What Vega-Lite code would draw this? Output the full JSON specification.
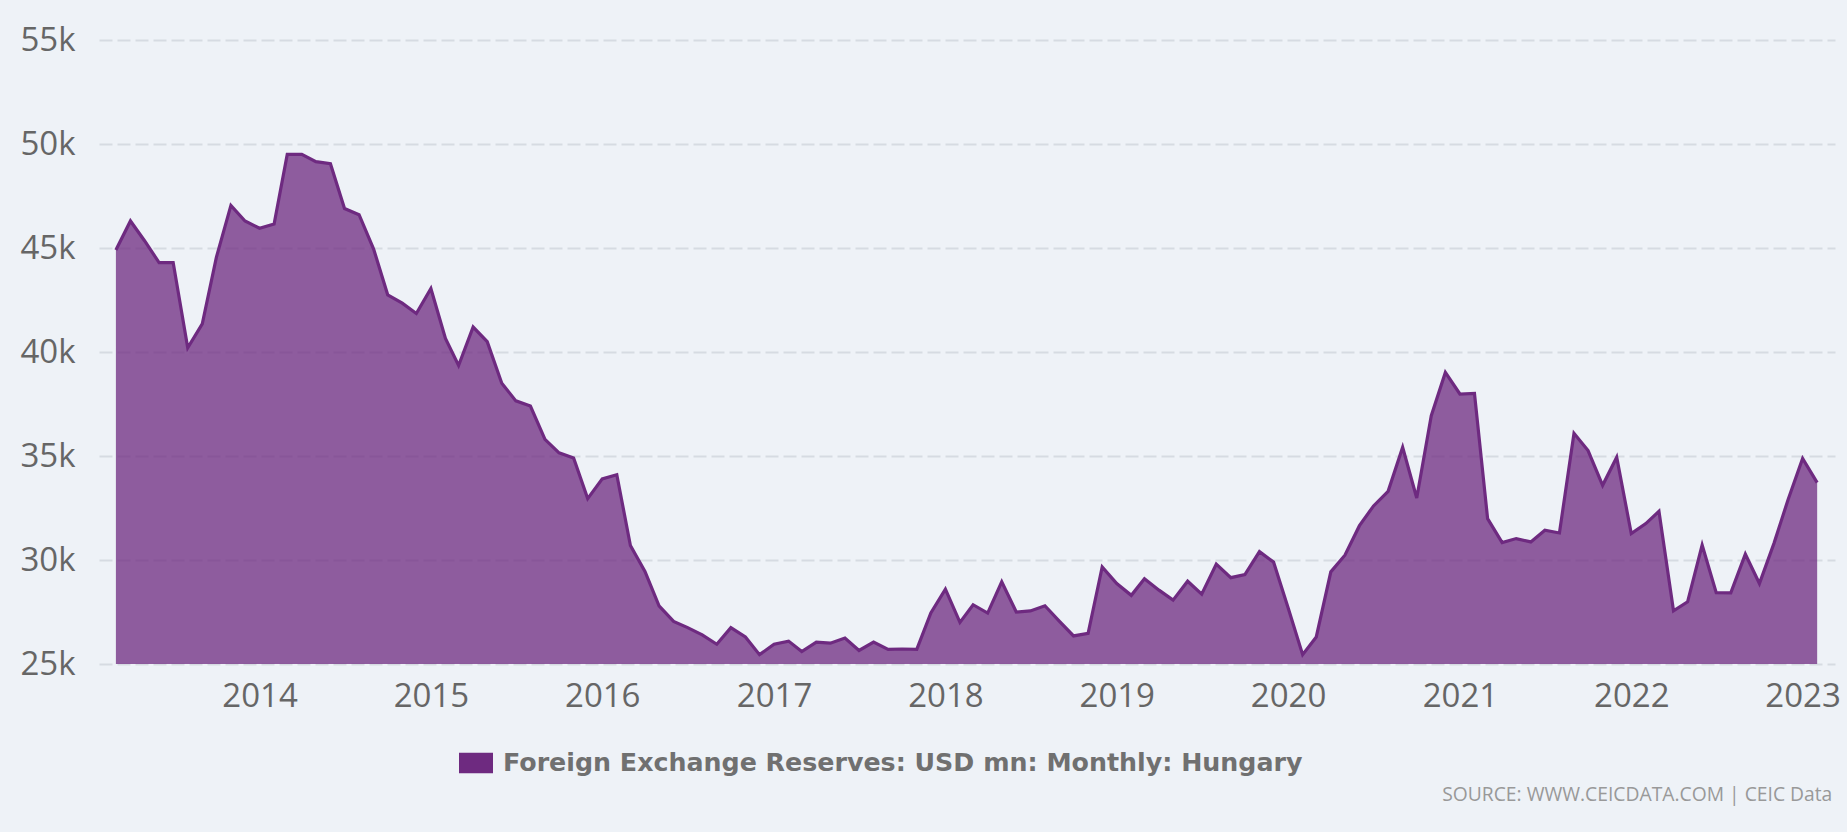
{
  "$schema": "https://vega.github.io/schema/vega-lite/v6.json",
  "width": 1736,
  "height": 624,
  "autosize": {"type": "none"},
  "padding": {"left": 99, "top": 40, "right": 12, "bottom": 168},
  "background": "#eef2f7",
  "config": {"view": {"stroke": null}},
  "title": {
    "text": "SOURCE: WWW.CEICDATA.COM | CEIC Data",
    "orient": "bottom",
    "anchor": "end",
    "font": "Open Sans",
    "fontSize": 19.3,
    "fontWeight": "normal",
    "color": "#999999",
    "offset": 9,
    "dx": -8
  },
  "data": {
    "values": [
      {"date": "2013-03-01", "v": 44900}, {"date": "2013-04-01", "v": 46300}, {"date": "2013-05-01", "v": 45350},
      {"date": "2013-06-01", "v": 44300}, {"date": "2013-07-01", "v": 44300}, {"date": "2013-08-01", "v": 40200},
      {"date": "2013-09-01", "v": 41350}, {"date": "2013-10-01", "v": 44550}, {"date": "2013-11-01", "v": 47050},
      {"date": "2013-12-01", "v": 46300}, {"date": "2014-01-01", "v": 45950}, {"date": "2014-02-01", "v": 46150},
      {"date": "2014-03-01", "v": 49500}, {"date": "2014-04-01", "v": 49500}, {"date": "2014-05-01", "v": 49150},
      {"date": "2014-06-01", "v": 49050}, {"date": "2014-07-01", "v": 46900}, {"date": "2014-08-01", "v": 46600},
      {"date": "2014-09-01", "v": 44950}, {"date": "2014-10-01", "v": 42750}, {"date": "2014-11-01", "v": 42350},
      {"date": "2014-12-01", "v": 41850}, {"date": "2015-01-01", "v": 43050}, {"date": "2015-02-01", "v": 40650},
      {"date": "2015-03-01", "v": 39350}, {"date": "2015-04-01", "v": 41200}, {"date": "2015-05-01", "v": 40500},
      {"date": "2015-06-01", "v": 38500}, {"date": "2015-07-01", "v": 37650}, {"date": "2015-08-01", "v": 37400},
      {"date": "2015-09-01", "v": 35800}, {"date": "2015-10-01", "v": 35150}, {"date": "2015-11-01", "v": 34900},
      {"date": "2015-12-01", "v": 32950}, {"date": "2016-01-01", "v": 33900}, {"date": "2016-02-01", "v": 34100},
      {"date": "2016-03-01", "v": 30700}, {"date": "2016-04-01", "v": 29450}, {"date": "2016-05-01", "v": 27800},
      {"date": "2016-06-01", "v": 27050}, {"date": "2016-07-01", "v": 26750}, {"date": "2016-08-01", "v": 26400},
      {"date": "2016-09-01", "v": 25950}, {"date": "2016-10-01", "v": 26750}, {"date": "2016-11-01", "v": 26300},
      {"date": "2016-12-01", "v": 25450}, {"date": "2017-01-01", "v": 25950}, {"date": "2017-02-01", "v": 26100},
      {"date": "2017-03-01", "v": 25600}, {"date": "2017-04-01", "v": 26050}, {"date": "2017-05-01", "v": 26000},
      {"date": "2017-06-01", "v": 26250}, {"date": "2017-07-01", "v": 25650}, {"date": "2017-08-01", "v": 26050},
      {"date": "2017-09-01", "v": 25700}, {"date": "2017-10-01", "v": 25720}, {"date": "2017-11-01", "v": 25700},
      {"date": "2017-12-01", "v": 27450}, {"date": "2018-01-01", "v": 28600}, {"date": "2018-02-01", "v": 27000},
      {"date": "2018-03-01", "v": 27850}, {"date": "2018-04-01", "v": 27450}, {"date": "2018-05-01", "v": 28950},
      {"date": "2018-06-01", "v": 27500}, {"date": "2018-07-01", "v": 27550}, {"date": "2018-08-01", "v": 27800},
      {"date": "2018-09-01", "v": 27050}, {"date": "2018-10-01", "v": 26350}, {"date": "2018-11-01", "v": 26470},
      {"date": "2018-12-01", "v": 29670}, {"date": "2019-01-01", "v": 28870}, {"date": "2019-02-01", "v": 28300},
      {"date": "2019-03-01", "v": 29100}, {"date": "2019-04-01", "v": 28550}, {"date": "2019-05-01", "v": 28070},
      {"date": "2019-06-01", "v": 28980}, {"date": "2019-07-01", "v": 28360}, {"date": "2019-08-01", "v": 29800},
      {"date": "2019-09-01", "v": 29150}, {"date": "2019-10-01", "v": 29300}, {"date": "2019-11-01", "v": 30400},
      {"date": "2019-12-01", "v": 29900}, {"date": "2020-01-01", "v": 27700}, {"date": "2020-02-01", "v": 25450},
      {"date": "2020-03-01", "v": 26300}, {"date": "2020-04-01", "v": 29430}, {"date": "2020-05-01", "v": 30230},
      {"date": "2020-06-01", "v": 31650}, {"date": "2020-07-01", "v": 32600}, {"date": "2020-08-01", "v": 33300},
      {"date": "2020-09-01", "v": 35420}, {"date": "2020-10-01", "v": 32980}, {"date": "2020-11-01", "v": 36940},
      {"date": "2020-12-01", "v": 39020}, {"date": "2021-01-01", "v": 37980}, {"date": "2021-02-01", "v": 38010},
      {"date": "2021-03-01", "v": 31990}, {"date": "2021-04-01", "v": 30840}, {"date": "2021-05-01", "v": 31030},
      {"date": "2021-06-01", "v": 30870}, {"date": "2021-07-01", "v": 31430}, {"date": "2021-08-01", "v": 31300},
      {"date": "2021-09-01", "v": 36090}, {"date": "2021-10-01", "v": 35260}, {"date": "2021-11-01", "v": 33590},
      {"date": "2021-12-01", "v": 34940}, {"date": "2022-01-01", "v": 31270}, {"date": "2022-02-01", "v": 31750},
      {"date": "2022-03-01", "v": 32340}, {"date": "2022-04-01", "v": 27560}, {"date": "2022-05-01", "v": 27990},
      {"date": "2022-06-01", "v": 30720}, {"date": "2022-07-01", "v": 28430}, {"date": "2022-08-01", "v": 28420},
      {"date": "2022-09-01", "v": 30280}, {"date": "2022-10-01", "v": 28870}, {"date": "2022-11-01", "v": 30800},
      {"date": "2022-12-01", "v": 32900}, {"date": "2023-01-01", "v": 34880}, {"date": "2023-02-01", "v": 33720}
    ]
  },
  "transform": [{"calculate": "'Foreign Exchange Reserves: USD mn: Monthly: Hungary'", "as": "series"}],
  "mark": {
    "type": "area",
    "fillOpacity": 0.75,
    "line": {"strokeWidth": 3.2, "color": "#6a2a7c"}
  },
  "encoding": {
    "x": {
      "field": "date",
      "type": "temporal",
      "scale": {
        "type": "utc",
        "domain": [
          {"year": 2013, "month": 1, "date": 24, "utc": true},
          {"year": 2023, "month": 3, "date": 11, "utc": true}
        ]
      },
      "axis": {
        "title": null,
        "format": "%Y",
        "tickCount": "year",
        "grid": false,
        "ticks": false,
        "tickSize": 0,
        "domain": false,
        "labelFont": "Open Sans",
        "labelFontSize": 33,
        "labelColor": "#666666",
        "labelPadding": 16,
        "labelFlush": false,
        "labelOverlap": false
      }
    },
    "y": {
      "field": "v",
      "type": "quantitative",
      "scale": {"domain": [25000, 55000], "zero": false, "nice": false},
      "axis": {
        "title": null,
        "values": [25000, 30000, 35000, 40000, 45000, 50000, 55000],
        "format": "~s",
        "ticks": false,
        "tickSize": 0,
        "domain": false,
        "grid": true,
        "gridColor": "#d6dbe2",
        "gridWidth": 2,
        "gridDash": [13, 5],
        "labelFont": "Open Sans",
        "labelFontSize": 33,
        "labelColor": "#666666",
        "labelPadding": 24
      }
    },
    "y2": {"datum": 25000},
    "color": {
      "field": "series",
      "type": "nominal",
      "scale": {"range": ["#6e2a80"]},
      "legend": {
        "title": null,
        "orient": "none",
        "legendX": 360,
        "legendY": 706,
        "padding": 0,
        "symbolType": "M-1,-0.6H1V0.6H-1Z",
        "symbolSize": 1156,
        "symbolStrokeWidth": 0,
        "symbolOpacity": 1,
        "symbolFillColor": "#722b84",
        "labelOffset": 10,
        "labelFont": "DejaVu Sans",
        "labelFontWeight": "bold",
        "labelFontSize": 25.3,
        "labelColor": "#707070",
        "labelLimit": 2000
      }
    }
  }
}
